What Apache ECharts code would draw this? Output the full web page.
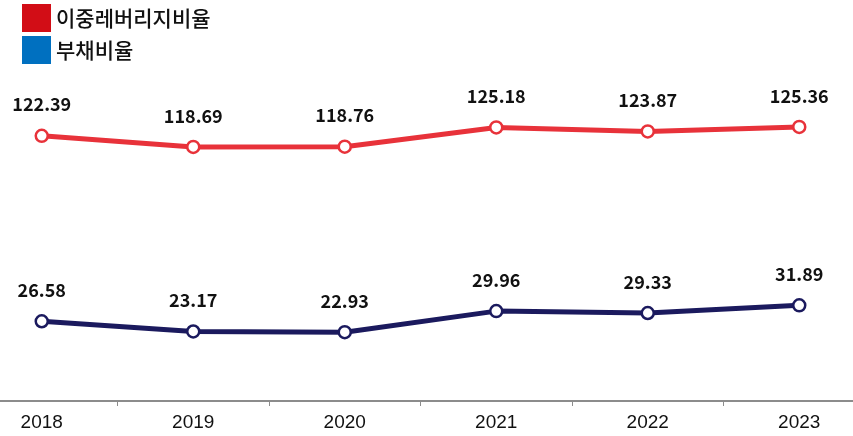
<!DOCTYPE html>
<html>
<head>
<meta charset="utf-8">
<script src="https://cdn.jsdelivr.net/npm/echarts@6/dist/echarts.min.js"></script>
<style>
html,body{margin:0;padding:0;background:#fff;}
#chart{width:853px;height:436px;}
</style>
</head>
<body>
<div id="chart"></div>
<script>
const categories = ['2018', '2019', '2020', '2021', '2022', '2023'];
const doubleLeverage = [122.39, 118.69, 118.76, 125.18, 123.87, 125.36];
const debtRatio = [26.58, 23.17, 22.93, 29.96, 29.33, 31.89];
const seriesNames = ['이중레버리지비율', '부채비율'];

const chart = echarts.init(document.getElementById('chart'), null, {renderer: 'canvas'});
const labelStyle = {
  show: true,
  position: 'top',
  distance: 15,
  fontSize: 18,
  fontWeight: 'bold',
  color: '#111',
  fontFamily: '"Noto Sans CJK KR", "Noto Sans", sans-serif'
};
chart.setOption({
  animation: false,
  backgroundColor: '#fff',
  legend: {
    orient: 'vertical',
    left: 22,
    top: 4,
    padding: 0,
    itemWidth: 29,
    itemHeight: 28,
    itemGap: 4,
    icon: 'rect',
    textStyle: {fontSize: 21, fontWeight: 500, color: '#111', fontFamily: '"Noto Sans CJK KR", sans-serif'},
    data: [
      {name: seriesNames[0], itemStyle: {color: '#D20D16', borderWidth: 0}},
      {name: seriesNames[1], itemStyle: {color: '#0070C0', borderWidth: 0}}
    ]
  },
  grid: {left: -34, right: -22, top: 101, bottom: 35, containLabel: false, outerBoundsMode: 'none'},
  xAxis: {
    type: 'category',
    data: categories,
    boundaryGap: true,
    axisLine: {lineStyle: {color: '#8c8c8c', width: 2}},
    axisTick: {show: true, length: 5, lineStyle: {color: '#8c8c8c', width: 1}},
    axisLabel: {fontSize: 19, color: '#111', margin: 12, fontFamily: '"Liberation Sans", Arial, sans-serif'}
  },
  yAxis: [
    {type: 'value', min: 34, max: 134, show: false, splitLine: {show: false}},
    {type: 'value', min: 0, max: 100, show: false, splitLine: {show: false}}
  ],
  series: [
    {
      name: seriesNames[0],
      type: 'line',
      yAxisIndex: 0,
      data: doubleLeverage,
      color: '#E8323A',
      lineStyle: {color: '#E8323A', width: 5},
      symbol: 'circle',
      symbolSize: 12,
      itemStyle: {color: '#fff', borderColor: '#E8323A', borderWidth: 2.5},
      label: labelStyle
    },
    {
      name: seriesNames[1],
      type: 'line',
      yAxisIndex: 1,
      data: debtRatio,
      color: '#1B1A5E',
      lineStyle: {color: '#1B1A5E', width: 5},
      symbol: 'circle',
      symbolSize: 12,
      itemStyle: {color: '#fff', borderColor: '#1B1A5E', borderWidth: 2.5},
      label: labelStyle
    }
  ]
});
</script>
</body>
</html>
